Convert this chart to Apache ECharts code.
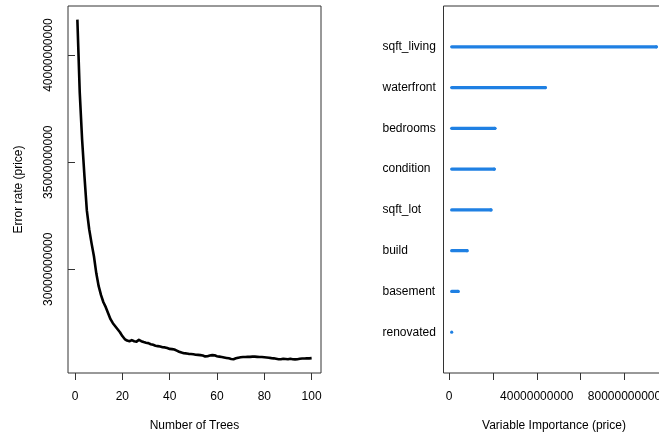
<!DOCTYPE html>
<html><head><meta charset="utf-8">
<script src="https://cdn.jsdelivr.net/npm/echarts@6/dist/echarts.min.js"></script>
<style>html,body{margin:0;padding:0;background:#fff}#c{width:659px;height:435px}</style>
</head><body><div id="c"></div><script>
// Left panel: error rate vs number of trees (trees 1..100)
const errorRate = [
41.66e9,38.26e9,36.06e9,34.34e9,32.75e9,31.87e9,31.21e9,30.61e9,29.81e9,29.21e9,
28.79e9,28.46e9,28.23e9,27.95e9,27.67e9,27.48e9,27.34e9,27.20e9,27.06e9,26.88e9,
26.74e9,26.67e9,26.64e9,26.69e9,26.64e9,26.62e9,26.70e9,26.64e9,26.60e9,26.57e9,
26.55e9,26.50e9,26.47e9,26.43e9,26.41e9,26.39e9,26.36e9,26.35e9,26.32e9,26.28e9,
26.27e9,26.25e9,26.20e9,26.15e9,26.11e9,26.08e9,26.07e9,26.05e9,26.04e9,26.03e9,
26.01e9,26.00e9,25.99e9,25.97e9,25.93e9,25.94e9,25.97e9,25.99e9,25.98e9,25.94e9,
25.92e9,25.90e9,25.88e9,25.86e9,25.84e9,25.81e9,25.80e9,25.84e9,25.87e9,25.89e9,
25.90e9,25.90e9,25.91e9,25.91e9,25.92e9,25.92e9,25.91e9,25.90e9,25.90e9,25.89e9,
25.88e9,25.87e9,25.85e9,25.84e9,25.82e9,25.80e9,25.80e9,25.82e9,25.81e9,25.80e9,
25.82e9,25.80e9,25.79e9,25.80e9,25.82e9,25.83e9,25.83e9,25.84e9,25.84e9,25.85e9
];
const treeTicks = [0, 20, 40, 60, 80, 100];
const errorTicks = [30000000000, 35000000000, 40000000000];

// Right panel: variable importance
const variables = ['sqft_living','waterfront','bedrooms','condition','sqft_lot','build','basement','renovated'];
const importance = [94.5e9, 43.9e9, 20.9e9, 20.6e9, 19.1e9, 8.2e9, 4.1e9, 1.2e9];
const impTicks = [0, 20000000000, 40000000000, 60000000000, 80000000000];
const impLabels = [0, 40000000000, 80000000000];

const FONT = '"Liberation Sans", Arial, Helvetica, sans-serif';
const AX = '#333';
const BLUE = '#1f80e3';
const pad = (lo, hi) => { const r = hi - lo; return [lo - 0.04 * r, hi + 0.04 * r]; };

const trees = errorRate.map((_, i) => i + 1);
const lineData = errorRate.map((v, i) => [trees[i], v]);
const [xMinL, xMaxL] = pad(trees[0], trees[trees.length - 1]);
const [yMinL, yMaxL] = pad(Math.min(...errorRate), Math.max(...errorRate));

const base = Math.min(...importance);
const [xMinR, xMaxR] = pad(base, Math.max(...importance));
const n = variables.length;
const segData = importance.map((v, i) => [v, n - i]);

const chart = echarts.init(document.getElementById('c'), null, {renderer: 'canvas'});
chart.setOption({
  animation: false,
  textStyle: {fontFamily: FONT},
  grid: [
    {left: 68, top: 6, width: 253, height: 367, show: true, borderColor: AX, borderWidth: 1, containLabel: false, outerBoundsMode: 'none'},
    {left: 443.5, top: 6, width: 221, height: 367, show: true, borderColor: AX, borderWidth: 1, containLabel: false, outerBoundsMode: 'none'}
  ],
  xAxis: [
    {type: 'value', gridIndex: 0, min: xMinL, max: xMaxL,
     name: 'Number of Trees', nameLocation: 'middle', nameGap: 47,
     nameTextStyle: {fontSize: 12, color: '#000', fontFamily: FONT},
     axisLine: {show: false}, splitLine: {show: false},
     axisTick: {show: true, inside: false, length: 7, lineStyle: {color: AX}, customValues: treeTicks},
     axisLabel: {show: true, fontSize: 12, color: '#000', margin: 18, fontFamily: FONT, customValues: treeTicks, formatter: v => String(v)}},
    {type: 'value', gridIndex: 1, min: xMinR, max: xMaxR,
     name: 'Variable Importance (price)', nameLocation: 'middle', nameGap: 47,
     nameTextStyle: {fontSize: 12, color: '#000', fontFamily: FONT},
     axisLine: {show: false}, splitLine: {show: false},
     axisTick: {show: true, inside: false, length: 7, lineStyle: {color: AX}, customValues: impTicks},
     axisLabel: {show: true, fontSize: 12, color: '#000', margin: 18, fontFamily: FONT, customValues: impLabels, formatter: v => String(v), hideOverlap: false}}
  ],
  yAxis: [
    {type: 'value', gridIndex: 0, min: yMinL, max: yMaxL,
     name: 'Error rate (price)', nameLocation: 'middle', nameGap: 43, nameRotate: 90,
     nameTextStyle: {fontSize: 12, color: '#000', fontFamily: FONT},
     axisLine: {show: false}, splitLine: {show: false},
     axisTick: {show: true, inside: false, length: 7, lineStyle: {color: AX}, customValues: errorTicks},
     axisLabel: {show: true, fontSize: 12, color: '#000', margin: 13, rotate: 90, fontFamily: FONT, customValues: errorTicks, formatter: v => String(v)}},
    {type: 'value', gridIndex: 1, min: 0, max: n + 1,
     axisLine: {show: false}, splitLine: {show: false}, axisTick: {show: false},
     axisLabel: {show: true, fontSize: 12, color: '#000', margin: 61, align: 'left', fontFamily: FONT,
       customValues: variables.map((_, i) => n - i),
       formatter: v => variables[n - v] || ''}}
  ],
  series: [
    {type: 'line', xAxisIndex: 0, yAxisIndex: 0, data: lineData, showSymbol: false, symbol: 'none',
     lineStyle: {color: '#000', width: 2.6, join: 'round'}},
    {type: 'custom', xAxisIndex: 1, yAxisIndex: 1, data: segData,
     renderItem: (params, api) => {
       const y = api.value(1);
       const p0 = api.coord([base, y]);
       const p1 = api.coord([api.value(0), y]);
       return {type: 'group', children: [
         {type: 'line', shape: {x1: p0[0], y1: p0[1], x2: p1[0], y2: p1[1]},
          style: {stroke: BLUE, lineWidth: 3.2, lineCap: 'round'}},
         {type: 'circle', shape: {cx: p1[0], cy: p1[1], r: 1.6}, style: {fill: BLUE}}
       ]};
     }}
  ]
});
</script></body></html>
